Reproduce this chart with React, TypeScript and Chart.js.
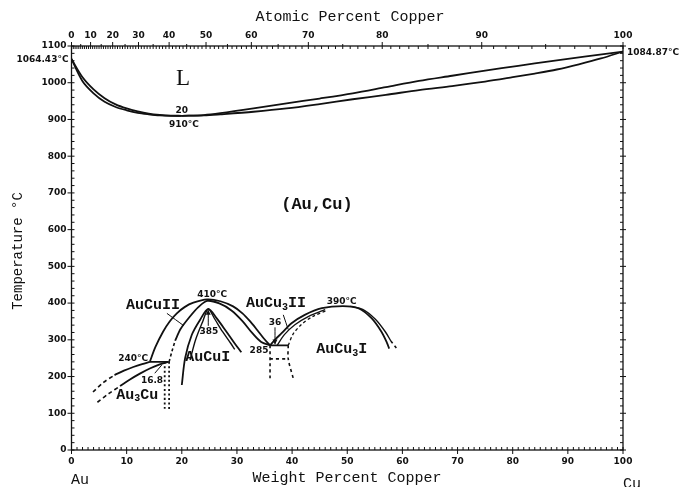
import React, { useEffect, useRef } from "react";
import { Chart, registerables } from "chart.js";
Chart.register(...registerables);

type P = [number, number];

// ---- Axis ticks ----
const WT_TICKS = [0, 10, 20, 30, 40, 50, 60, 70, 80, 90, 100];
const TEMP_TICKS = [0, 100, 200, 300, 400, 500, 600, 700, 800, 900, 1000, 1100];
const AT_TICKS = [0, 10, 20, 30, 40, 50, 60, 70, 80, 90, 100];

// ---- Liquidus / solidus (wt% Cu, °C) ----
const LIQ_AU_SIDE: P[] = [[0, 1064.43], [2, 1015], [4, 982], [6, 958], [8, 941], [10, 930], [12, 922], [14, 916], [16, 912.5], [18, 910.5], [20, 910]];
const SOL_AU_SIDE: P[] = [[0, 1064.43], [2, 1004], [4, 971], [6, 948], [8, 934], [10, 925], [12, 918], [14, 914], [16, 911], [18, 910], [20, 910]];
const LIQ_CU_SIDE: P[] = [[20, 910], [24, 912], [27, 917], [33, 930], [39, 944], [45, 957], [51, 971], [57, 988], [63, 1005], [69, 1019], [75, 1033], [81, 1046], [87, 1059], [93, 1071], [100, 1084.87]];
const SOL_CU_SIDE: P[] = [[20, 910], [24, 911], [27, 914], [33, 921], [39, 930], [45, 942], [51, 955], [57, 967], [63, 980], [69, 991], [75, 1003], [80, 1015], [84, 1025], [88, 1036], [92, 1050], [96, 1066], [100, 1084.87]];

// ---- Au3Cu region ----
const AU3CU_UPPER_DASH: P[] = [[3.9, 158], [5.8, 184], [7.8, 204]];
const AU3CU_UPPER: P[] = [[7.8, 204], [9.5, 216], [11.2, 226], [12.8, 234], [14.2, 240]];
const AU3CU_LOWER_DASH: P[] = [[4.7, 130], [6.8, 154], [8.8, 174]];
const AU3CU_LOWER: P[] = [[8.8, 174], [10.6, 192], [12.4, 208], [14.2, 222], [16, 233], [17.6, 240]];
const LINE_240: P[] = [[14.2, 240], [17.6, 240]];
const DOT_V1: P[] = [[16.9, 240], [16.9, 112]];
const DOT_V2: P[] = [[17.7, 240], [17.7, 106]];

// ---- AuCu II / AuCu I ----
const DOME_A: P[] = [[14.2, 240], [15.2, 280], [16.6, 322], [17.8, 350], [19.1, 372], [20.5, 389], [22.1, 401], [24.6, 410], [27, 405], [29.3, 391], [31, 372], [32.4, 350], [33.7, 326], [34.8, 305], [36, 285]];
const DOME_B_DASH: P[] = [[17.7, 240], [18.2, 268], [18.8, 298]];
const DOME_B: P[] = [[18.8, 298], [19.8, 330], [21.4, 362], [23, 389], [24.6, 406], [26.8, 399], [29, 380], [31, 351], [32.8, 318], [34.4, 294], [36, 285]];
const DOME_C_OUT: P[] = [[20, 177], [20.6, 250], [21.8, 313], [23.3, 354], [24.8, 384], [26.3, 359], [28.1, 322], [29.6, 290], [30.8, 266]];
const DOME_C_IN: P[] = [[21.5, 245], [22.5, 300], [23.8, 350], [24.8, 384], [26, 356], [27.4, 322], [28.8, 292], [29.6, 274]];

// ---- AuCu3 region ----
const LINE_285: P[] = [[36, 285], [39.3, 285]];
const BOX_LEFT: P[] = [[36, 285], [36, 195]];
const BOX_BOTTOM: P[] = [[36, 248], [39.3, 248]];
const BOX_RIGHT: P[] = [[39.3, 285], [39.3, 248], [40.3, 190]];
const DOME_D: P[] = [[36, 285], [37, 302], [38.1, 318], [39.9, 345], [42.3, 368], [45.4, 386], [49.2, 392], [52, 386], [54.4, 359], [56.2, 322], [57.2, 292], [57.6, 276]];
const DOME_D2: P[] = [[50.5, 391], [52.8, 383], [55.1, 356], [56.9, 322], [57.9, 297]];
const DOME_D2_DASH: P[] = [[57.9, 297], [58.9, 278]];
const DOME_D3: P[] = [[37.3, 285], [38.6, 314], [40.5, 341], [43, 364], [46, 382]];
const DOME_D_DASH: P[] = [[39.3, 285], [40.2, 316], [41.7, 342], [43.8, 364], [46.3, 380]];

// ---- leader lines / arrows ----
const LEAD_AUCUII: P[] = [[17.3, 372], [20.4, 338]];
const LEAD_AUCU3II: P[] = [[38.4, 368], [39.3, 328]];
const LEAD_168: P[] = [[15.1, 209], [16.4, 232]];
const ARROW_385: P[] = [[24.8, 338], [24.8, 380]];
const ARROW_36: P[] = [[36.9, 334], [36.9, 289]];

type Lbl = { t: string; x: number; y: number; font: string; sub?: string; tail?: string };
const SMALL = 'bold 9px "DejaVu Sans"';
const PHASE = 'bold 15px "Liberation Mono"';
const LABELS: Lbl[] = [
  { t: "20", x: 20.0, y: 923, font: SMALL },
  { t: "910°C", x: 20.4, y: 885, font: SMALL },
  { t: "410°C", x: 25.5, y: 422, font: SMALL },
  { t: "390°C", x: 49.0, y: 403, font: SMALL },
  { t: "36", x: 36.9, y: 346, font: SMALL },
  { t: "285", x: 34.0, y: 270, font: SMALL },
  { t: "385", x: 24.9, y: 321, font: SMALL },
  { t: "240°C", x: 11.2, y: 250, font: SMALL },
  { t: "16.8", x: 14.6, y: 188, font: SMALL },
  { t: "AuCuII", x: 14.8, y: 395, font: PHASE },
  { t: "AuCuI", x: 24.7, y: 253, font: PHASE },
  { t: "AuCu", sub: "3", tail: "II", x: 37.1, y: 400, font: PHASE },
  { t: "AuCu", sub: "3", tail: "I", x: 49.0, y: 275, font: PHASE },
  { t: "Au", sub: "3", tail: "Cu", x: 11.9, y: 150, font: PHASE },
  { t: "(Au,Cu)", x: 44.5, y: 667, font: 'bold 17px "Liberation Mono"' },
  { t: "L", x: 20.2, y: 1010, font: '23px "Liberation Serif"' },
];

const toXY = (p: P[]) => p.map(([x, y]) => ({ x, y }));
const wtFromAt = (a: number) => (63.546 * a) / (63.546 * a + 196.967 * (100 - a)) * 100;

export default function App() {
  const ref = useRef<HTMLCanvasElement>(null);
  useEffect(() => {
    const solid = (d: P[], w = 1.8) => ({ data: toXY(d), showLine: true, pointRadius: 0, borderColor: "#111", borderWidth: w, tension: 0.3, fill: false });
    const dash = (d: P[], pat = [4, 3], w = 1.6) => ({ ...solid(d, w), borderDash: pat });
    const datasets: any[] = [
      solid(LIQ_AU_SIDE), solid(SOL_AU_SIDE), solid(LIQ_CU_SIDE), solid(SOL_CU_SIDE),
      dash(AU3CU_UPPER_DASH), solid(AU3CU_UPPER), dash(AU3CU_LOWER_DASH), solid(AU3CU_LOWER),
      solid(LINE_240), dash(DOT_V1, [2, 2.5], 1.8), dash(DOT_V2, [2, 2.5], 1.8),
      solid(DOME_A), dash(DOME_B_DASH, [3, 2.5]), solid(DOME_B), solid(DOME_C_OUT), solid(DOME_C_IN, 1.4),
      solid(LINE_285), dash(BOX_LEFT, [3, 3]), dash(BOX_BOTTOM, [3, 3]), dash(BOX_RIGHT, [3, 3]),
      solid(DOME_D), solid(DOME_D2, 1.4), dash(DOME_D2_DASH, [3, 3]), solid(DOME_D3, 1.3), dash(DOME_D_DASH, [3, 2.5], 1.3),
      solid(LEAD_AUCUII, 1), solid(LEAD_AUCU3II, 1), solid(LEAD_168, 1), solid(ARROW_385, 1), solid(ARROW_36, 1),
    ];

    const deco = {
      id: "deco",
      afterDraw(chart: any) {
        const ctx = chart.ctx as CanvasRenderingContext2D;
        const xs = chart.scales.x, ys = chart.scales.y;
        const { left, right, top, bottom } = chart.chartArea;
        ctx.save();
        ctx.strokeStyle = "#111";
        ctx.fillStyle = "#111";
        ctx.lineWidth = 1.3;
        ctx.strokeRect(left, top, right - left, bottom - top);
        ctx.lineWidth = 1;
        ctx.beginPath();
        for (let v = 0; v <= 100; v += 1) {
          const px = xs.getPixelForValue(v);
          ctx.moveTo(px, bottom); ctx.lineTo(px, bottom - 3);
          if (v % 10 === 0) { ctx.moveTo(px, bottom); ctx.lineTo(px, bottom + 4); }
        }
        for (let a = 0; a <= 100; a += 1) {
          const px = xs.getPixelForValue(wtFromAt(a));
          ctx.moveTo(px, top); ctx.lineTo(px, top + 3);
          if (a % 10 === 0) { ctx.moveTo(px, top); ctx.lineTo(px, top - 4); }
          else if (a % 5 === 0) { ctx.moveTo(px, top); ctx.lineTo(px, top - 2); }
        }
        for (let t = 0; t <= 1100; t += 20) {
          const py = ys.getPixelForValue(t);
          ctx.moveTo(left, py); ctx.lineTo(left + 3, py);
          ctx.moveTo(right, py); ctx.lineTo(right - 3, py);
          if (t % 100 === 0) {
            ctx.moveTo(left, py); ctx.lineTo(left - 4, py);
            ctx.moveTo(right, py); ctx.lineTo(right + 3, py);
          }
        }
        ctx.stroke();

        ctx.font = SMALL;
        ctx.textAlign = "center";
        ctx.textBaseline = "middle";
        WT_TICKS.forEach((v) => ctx.fillText(String(v), xs.getPixelForValue(v), bottom + 12));
        AT_TICKS.forEach((a) => ctx.fillText(String(a), xs.getPixelForValue(wtFromAt(a)), top - 10));
        ctx.textAlign = "right";
        TEMP_TICKS.forEach((t) => ctx.fillText(String(t), left - 5, ys.getPixelForValue(t)));
        ctx.fillText("1064.43°C", left - 3, ys.getPixelForValue(1064.43) + 1);
        ctx.textAlign = "left";
        ctx.fillText("1084.87°C", right + 4, ys.getPixelForValue(1084.87) + 1);

        ctx.font = '15px "Liberation Mono"';
        ctx.textAlign = "center";
        ctx.fillText("Atomic Percent Copper", 350, 17);
        ctx.fillText("Weight Percent Copper", 347, 478);
        ctx.fillText("Au", 80, 480);
        ctx.fillText("Cu", 632, 484);
        ctx.save();
        ctx.translate(18, 251);
        ctx.rotate(-Math.PI / 2);
        ctx.font = '14px "Liberation Mono"';
        ctx.fillText("Temperature °C", 0, 0);
        ctx.restore();

        LABELS.forEach((l) => {
          const px = xs.getPixelForValue(l.x), py = ys.getPixelForValue(l.y);
          ctx.font = l.font;
          if (!l.sub) {
            ctx.textAlign = "center";
            ctx.fillText(l.t, px, py);
            return;
          }
          const subFont = 'bold 10px "Liberation Mono"';
          const w1 = ctx.measureText(l.t).width;
          const w3 = ctx.measureText(l.tail || "").width;
          ctx.font = subFont;
          const w2 = ctx.measureText(l.sub).width;
          const x0 = px - (w1 + w2 + w3) / 2;
          ctx.textAlign = "left";
          ctx.font = l.font;
          ctx.fillText(l.t, x0, py);
          ctx.font = subFont;
          ctx.fillText(l.sub, x0 + w1, py + 4);
          ctx.font = l.font;
          ctx.fillText(l.tail || "", x0 + w1 + w2, py);
        });
        const head = (x: number, y: number, dir: number) => {
          const px = xs.getPixelForValue(x), py = ys.getPixelForValue(y);
          ctx.beginPath();
          ctx.moveTo(px, py);
          ctx.lineTo(px - 2.5, py + dir * 5);
          ctx.lineTo(px + 2.5, py + dir * 5);
          ctx.closePath();
          ctx.fill();
        };
        head(24.8, 382, 1);
        head(36.9, 287, -1);
        ctx.restore();
      },
    };

    const chart = new Chart(ref.current!, {
      type: "scatter",
      data: { datasets },
      options: {
        responsive: false,
        animation: false,
        layout: { padding: { left: 71.5, right: 59, top: 46, bottom: 37 } },
        plugins: { legend: { display: false }, tooltip: { enabled: false } },
        scales: {
          x: { type: "linear", min: 0, max: 100, display: false },
          y: { type: "linear", min: 0, max: 1100, display: false },
        },
      },
      plugins: [deco],
    });
    return () => chart.destroy();
  }, []);
  return (
    <div style={{ position: "fixed", left: 0, top: 0, width: 682, height: 487, background: "#fff" }}>
      <canvas ref={ref} width={682} height={487} />
    </div>
  );
}
